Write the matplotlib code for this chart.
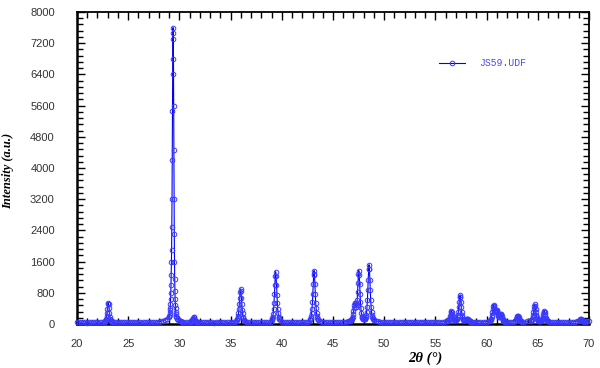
import numpy as np
import matplotlib
matplotlib.use("Agg")
import matplotlib.pyplot as plt
from matplotlib.ticker import MultipleLocator

# ---- data: (start 2theta, step, intensities) ----
base_20 = (20.0, 0.2, [48, 55, 42, 60, 51, 38, 57, 46, 63, 44, 52, 58, 41, 54])
peak_23 = (22.65, 0.04, [55, 60, 72, 85, 110, 140, 195, 285, 390, 510, 550, 505, 400,
                         280, 190, 140, 105, 85, 70, 62, 55])
base_24 = (23.6, 0.2, [50, 44, 61, 53, 47, 58, 40, 55, 49, 62, 45, 57, 52, 39, 60, 48,
                       54, 43, 59, 51, 46, 55, 61, 70, 84, 105, 140])
peak_29 = (29.00, 0.02, [180, 200, 240, 290, 350, 420, 520, 640, 800, 1000, 1250, 1600,
                         1900, 2500, 3200, 4200, 5450, 6400, 7300, 7600, 7450, 6800,
                         5600, 4450, 3200, 2300, 1600, 1150, 850, 650, 500, 400, 320,
                         260, 210, 170])
tail_30 = (29.8, 0.1, [140, 112, 92, 78, 66, 60, 56])
base_31 = (30.6, 0.2, [52, 48, 58])
peak_31 = (31.10, 0.04, [55, 60, 68, 80, 100, 130, 160, 180, 170, 140, 110, 85, 70,
                         62, 56, 52])
base_33 = (31.8, 0.2, [50, 45, 59, 42, 54, 61, 47, 52, 38, 57, 49, 63, 44, 55, 50, 41,
                       58, 53, 60])
peak_36 = (35.57, 0.04, [88, 101, 118, 144, 195, 271, 373, 518, 679, 832, 900, 840, 670,
                         525, 365, 275, 190, 148, 115, 98, 85])
base_37 = (36.5, 0.2, [62, 55, 48, 57, 43, 60, 51, 46, 58, 40, 53, 49, 56])
peak_39 = (39.00, 0.04, [108, 127, 153, 192, 269, 385, 540, 760, 1005, 1237, 1340, 1230,
                         1010, 750, 545, 380, 275, 190, 150, 125, 105])
base_41 = (40.0, 0.2, [60, 52, 47, 55, 41, 58, 50, 44, 62, 48, 53, 39, 57, 51])
peak_43 = (42.75, 0.04, [109, 129, 156, 195, 274, 393, 552, 776, 1027, 1264, 1370, 1270,
                         1020, 780, 548, 398, 270, 198, 152, 127, 110])
base_45 = (43.7, 0.2, [70, 55, 48, 60, 43, 52, 57, 46, 61, 50, 44, 58, 53, 62, 66])
peak_48 = (46.60, 0.04, [69, 77, 80, 91, 98, 106, 119, 145, 192, 247,
                         326, 413, 500, 547, 532, 480, 438, 441, 506, 622,
                         816, 1048, 1272, 1370, 1260, 1030, 782, 556, 410, 293,
                         216, 177, 151, 140, 132, 129, 125, 130, 140, 156,
                         185, 229, 310, 440, 615, 862, 1140, 1400, 1520, 1400,
                         1140, 862, 610, 435, 305, 220, 172, 142, 120, 108, 98])
base_52 = (49.2, 0.2, [82, 68, 58, 50, 45, 56, 43, 60, 52, 47,
                       55, 40, 58, 49, 62, 44, 53, 57, 41, 59,
                       50, 46, 61, 54, 48, 56, 42, 60, 51, 47,
                       57, 53, 62, 58, 66])
peak_57 = (56.12, 0.04, [70, 74, 78, 84, 92, 108, 132, 164, 210, 260,
                         310, 325, 308, 260, 210, 165, 133, 113, 99, 94,
                         92, 93, 97, 105, 117, 134, 175, 236, 318, 436,
                         567, 690, 745, 690, 567, 436, 318, 236, 178, 137,
                         115, 102, 94, 92, 94, 100, 109, 122, 134, 139,
                         132, 118, 103, 91, 82, 75, 70, 66, 63, 62, 60, 58, 57])
base_59 = (58.8, 0.2, [55, 48, 60, 52, 46, 57, 63, 72])
peak_61 = (60.32, 0.04, [83, 92, 104, 129, 170, 223, 295, 378, 459, 499,
                         473, 415, 359, 322, 318, 332, 355, 367, 339, 289,
                         239, 201, 183, 179, 193, 218, 245, 256, 237, 200,
                         163, 130, 107, 89, 78, 72, 67, 63, 61])
base_62 = (62.0, 0.2, [55, 50, 58, 62])
peak_63 = (62.73, 0.04, [68, 73, 82, 97, 116, 143, 173, 202, 215, 200, 175, 140, 118,
                         95, 84, 72, 66])
base_64 = (63.5, 0.2, [57, 60, 66, 72])
peak_65 = (64.30, 0.04, [76, 82, 91, 105, 132, 172, 226, 303, 388, 469,
                         507, 471, 390, 306, 229, 175, 135, 108, 95, 87,
                         81, 79, 78, 78, 81, 84, 91, 108, 132, 165,
                         213, 266, 316, 337, 314, 263, 210, 162, 129, 104,
                         87, 78, 72, 68])
base_67 = (66.2, 0.2, [60, 52, 47, 56, 43, 58, 50, 45, 61, 53, 48, 57, 62, 68])
peak_69 = (69.00, 0.04, [76, 85, 99, 114, 129, 135, 129, 114, 99, 85, 76, 70, 66, 62])
base_70 = (69.7, 0.15, [60, 68, 80])

segments = [base_20, peak_23, base_24, peak_29, tail_30, base_31, peak_31, base_33,
            peak_36, base_37, peak_39, base_41, peak_43, base_45, peak_48, base_52,
            peak_57, base_59, peak_61, base_62, peak_63, base_64, peak_65, base_67,
            peak_69, base_70]

series_name = "JS59.UDF"
x_ticks = [20, 25, 30, 35, 40, 45, 50, 55, 60, 65, 70]
y_ticks = [0, 800, 1600, 2400, 3200, 4000, 4800, 5600, 6400, 7200, 8000]

xs, ys = [], []
for x0, step, vals in segments:
    xs.extend(x0 + step * np.arange(len(vals)))
    ys.extend(vals)
xs = np.array(xs)
ys = np.array(ys)
order = np.argsort(xs)
xs, ys = xs[order], ys[order]

# ---- figure ----
fig = plt.figure(figsize=(6.0, 3.68), dpi=100)
ax = fig.add_axes([77 / 600, 44 / 368, 512 / 600, 312 / 368])

ax.plot(xs, ys, color="#0000ff", lw=0.8, marker="o", ms=3.3, mfc="none",
        mec="#3a3aff", mew=0.7, label=series_name, clip_on=False, zorder=3)

ax.set_xlim(20, 70)
ax.set_ylim(0, 8000)
ax.set_xticks(x_ticks)
ax.set_yticks(y_ticks)
ax.xaxis.set_minor_locator(MultipleLocator(1))
ax.yaxis.set_minor_locator(MultipleLocator(160))

ax.tick_params(which="both", direction="in", top=True, right=True, width=1.0,
               color="black")
ax.tick_params(which="major", length=6)
ax.tick_params(which="minor", length=4)
ax.tick_params(axis="x", which="major", pad=11)
ax.tick_params(axis="y", which="major", pad=16)
for lab in ax.get_xticklabels() + ax.get_yticklabels():
    lab.set_fontfamily("Liberation Sans")
    lab.set_fontsize(8)
    lab.set_color("#333333")

for side in ["left", "bottom"]:
    ax.spines[side].set_linewidth(1.8)
for side in ["top", "right"]:
    ax.spines[side].set_linewidth(1.3)

ax.set_ylabel("Intensity (a.u.)", fontfamily="Liberation Serif", fontweight="bold",
              fontstyle="italic", fontsize=9)
ax.yaxis.set_label_coords(-0.123, 0.49)
ax.set_xlabel("2θ (°)", fontfamily="Liberation Serif", fontweight="bold",
              fontstyle="italic", fontsize=10.5)
ax.xaxis.set_label_coords(0.68, -0.088)

leg = ax.legend(loc="center left", bbox_to_anchor=(0.707, 0.835), frameon=False,
                handlelength=2.7, handletextpad=1.4, borderaxespad=0, borderpad=0,
                numpoints=1, prop={"family": "Liberation Mono", "size": 7})
for t in leg.get_texts():
    t.set_color("#4a4aff")

fig.savefig("out.png", dpi=100)
